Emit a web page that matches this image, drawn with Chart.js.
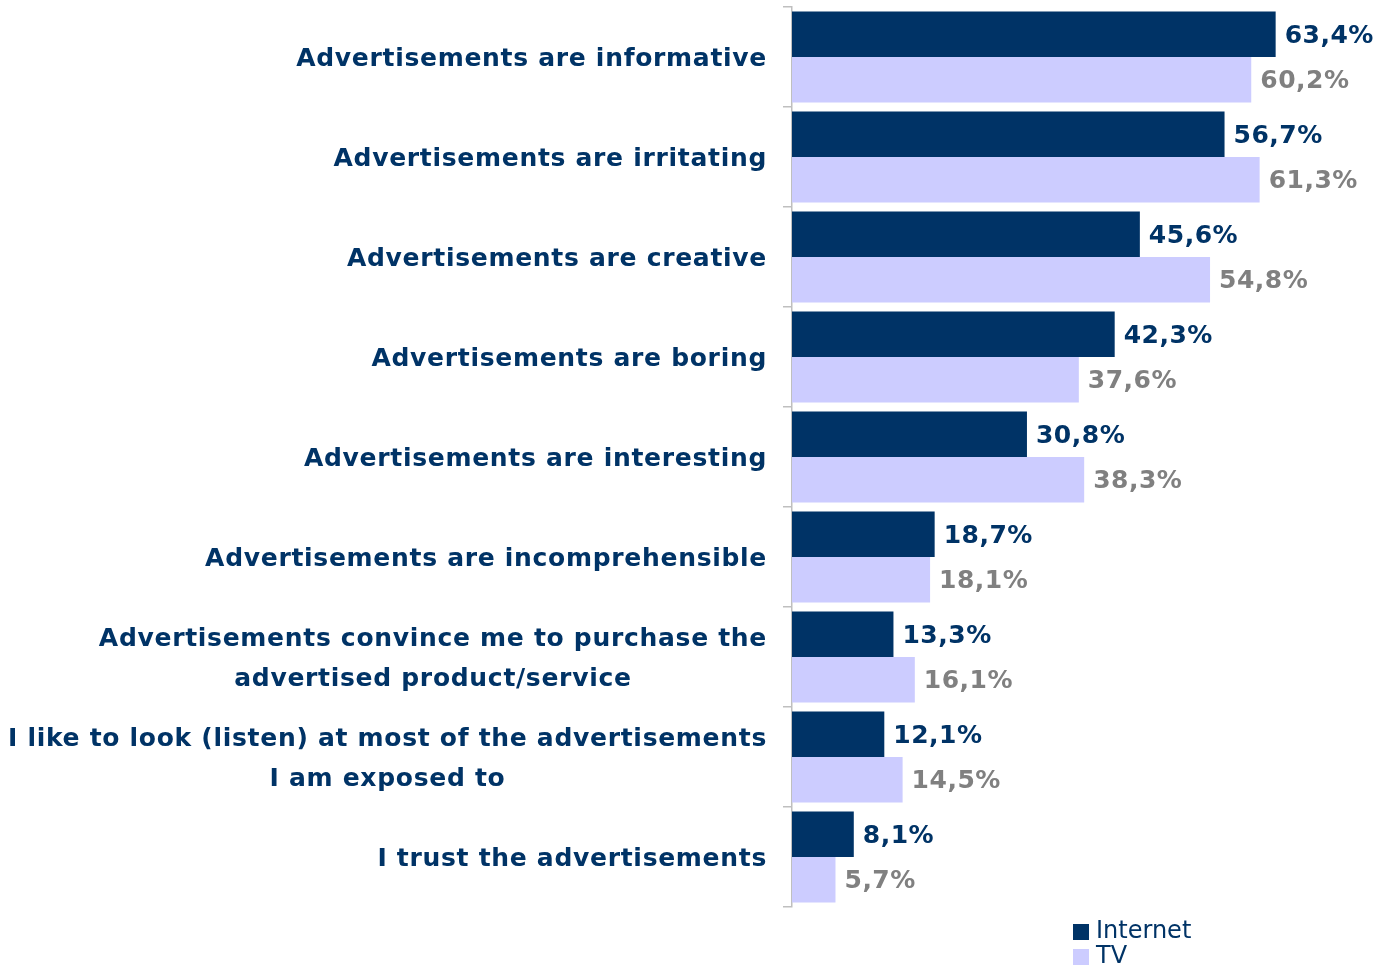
<!DOCTYPE html>
<html>
<head>
<meta charset="utf-8">
<script src="https://cdn.jsdelivr.net/npm/chart.js@4.4.1/dist/chart.umd.min.js"></script>
<style>
  html, body { margin: 0; padding: 0; background: #ffffff; }
  #wrap { width: 1378px; height: 967px; position: relative; }
</style>
</head>
<body>
<div id="wrap"><canvas id="c" width="1378" height="967"></canvas></div>
<script>
// Statements about advertising (multi-line entries are arrays of lines)
const categories = [
  'Advertisements are informative',
  'Advertisements are irritating',
  'Advertisements are creative',
  'Advertisements are boring',
  'Advertisements are interesting',
  'Advertisements are incomprehensible',
  ['Advertisements convince me to purchase the', 'advertised product/service'],
  ['I like to look (listen) at most of the advertisements', 'I am exposed to'],
  'I trust the advertisements'
];
const seriesNames = ['Internet', 'TV'];
const internetValues = [63.4, 56.7, 45.6, 42.3, 30.8, 18.7, 13.3, 12.1, 8.1];
const tvValues = [60.2, 61.3, 54.8, 37.6, 38.3, 18.1, 16.1, 14.5, 5.7];

const NAVY = '#003366';
const LAVENDER = '#ccccff';
const GREY_TEXT = '#808080';
const AXIS_GREY = '#bfbfbf';
const FONT = '"DejaVu Sans", Verdana, sans-serif';

const fmt = v => v.toFixed(1).replace('.', ',') + '%';

// Category labels: block right-aligned to the axis, lines centred within the block
const categoryLabels = {
  id: 'categoryLabels',
  afterDraw(chart) {
    const ctx = chart.ctx;
    const y = chart.scales.y;
    const right = y.right - 25;
    const lineH = 40;
    ctx.save();
    ctx.font = 'bold 25px ' + FONT;
    ctx.letterSpacing = '0.7px';
    ctx.fillStyle = NAVY;
    ctx.textBaseline = 'middle';
    ctx.textAlign = 'left';
    chart.data.labels.forEach((lab, i) => {
      const lines = Array.isArray(lab) ? lab : [lab];
      const widths = lines.map(l => ctx.measureText(l).width);
      const w = Math.max(...widths);
      const cx = right - w / 2;
      const cy = y.getPixelForValue(i) + 2;
      const top = cy - (lines.length - 1) * lineH / 2;
      lines.forEach((l, k) => ctx.fillText(l, cx - widths[k] / 2, top + k * lineH));
    });
    ctx.restore();
  }
};

// Value labels at the end of each bar
const valueLabels = {
  id: 'valueLabels',
  afterDatasetsDraw(chart) {
    const ctx = chart.ctx;
    ctx.save();
    ctx.font = 'bold 25px ' + FONT;
    ctx.letterSpacing = '0.5px';
    ctx.textBaseline = 'middle';
    ctx.textAlign = 'left';
    chart.data.datasets.forEach((ds, di) => {
      const meta = chart.getDatasetMeta(di);
      ctx.fillStyle = di === 0 ? NAVY : GREY_TEXT;
      meta.data.forEach((bar, i) => {
        ctx.fillText(fmt(ds.data[i]), bar.x + 9, bar.y + 2);
      });
    });
    ctx.restore();
  }
};

// Stacked legend in the lower right
const stackedLegend = {
  id: 'stackedLegend',
  afterDraw(chart) {
    const ctx = chart.ctx;
    ctx.save();
    ctx.font = '24px ' + FONT;
    ctx.textBaseline = 'middle';
    ctx.textAlign = 'left';
    chart.data.datasets.forEach((ds, i) => {
      const cy = 932 + i * 25;
      ctx.fillStyle = ds.backgroundColor;
      ctx.fillRect(1073, cy - 8, 16, 16);
      ctx.fillStyle = NAVY;
      ctx.fillText(ds.label, 1096, cy);
    });
    ctx.restore();
  }
};

new Chart(document.getElementById('c'), {
  type: 'bar',
  data: {
    labels: categories,
    datasets: [
      { label: seriesNames[0], data: internetValues, backgroundColor: NAVY },
      { label: seriesNames[1], data: tvValues, backgroundColor: LAVENDER }
    ]
  },
  options: {
    indexAxis: 'y',
    responsive: false,
    animation: false,
    layout: { padding: { top: 7, right: 52, bottom: 60, left: 0 } },
    datasets: { bar: { categoryPercentage: 0.91, barPercentage: 1.0 } },
    plugins: { legend: { display: false }, tooltip: { enabled: false } },
    scales: {
      x: { display: false, min: 0, max: 70 },
      y: {
        afterFit(scale) { scale.width = 792; },
        grid: { offset: true, drawOnChartArea: false, drawTicks: true, tickLength: 9, color: AXIS_GREY, lineWidth: 1.5 },
        border: { display: true, color: AXIS_GREY, width: 1.5 },
        ticks: { display: false }
      }
    }
  },
  plugins: [categoryLabels, valueLabels, stackedLegend]
});
</script>
</body>
</html>
